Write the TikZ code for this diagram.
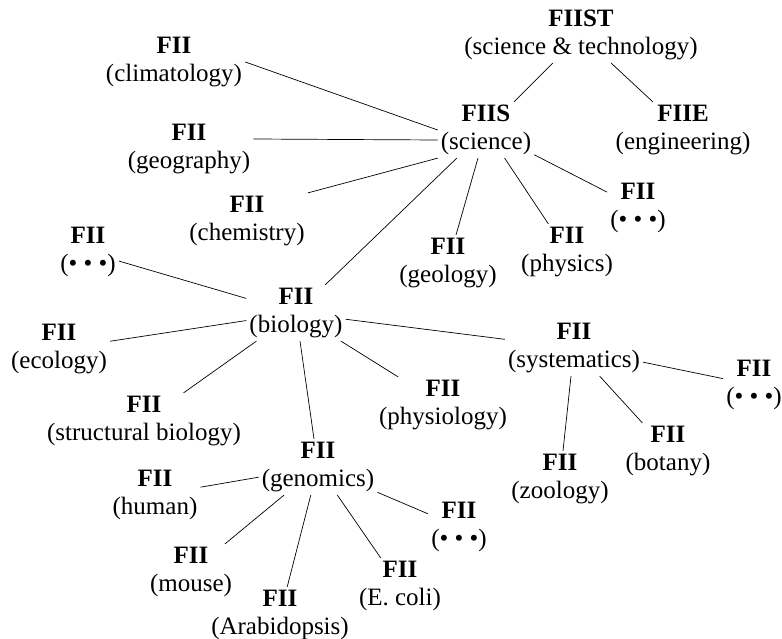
\documentclass[tikz,border=0pt]{standalone}
\usepackage{fontspec}
\setmainfont{Liberation Serif}
\usepackage{tikz}

\begin{document}
\begin{tikzpicture}[
    x=1pt, y=-1pt,
    every node/.style={font=\fontsize{25}{28}\selectfont},
    field/.style={rectangle, align=center, inner sep=3pt},
    link/.style={line width=0.7pt},
]
\useasboundingbox (0,0) rectangle (782,639);

% Top levels
\node[field] (st) at (581,35) {\textbf{FIIST}\\(science \& technology)};
\node[field] (sci) at (486,130) {\textbf{FIIS}\\(science)};
\node[field] (eng) at (683,130) {\textbf{FIIE}\\(engineering)};

% Science fields
\node[field] (clim) at (174,62) {\textbf{FII}\\(climatology)};
\node[field] (geog) at (189,149) {\textbf{FII}\\(geography)};
\node[field] (chem) at (247,221) {\textbf{FII}\\(chemistry)};
\node[field] (geol) at (448,263) {\textbf{FII}\\(geology)};
\node[field] (phys) at (567,252) {\textbf{FII}\\(physics)};
\node[field] (scimore) at (638,208) {\textbf{FII}\\(\textbullet{} \textbullet{} \textbullet)};
\node[field] (bio) at (296,313) {\textbf{FII}\\(biology)};

% Biology fields
\node[field] (biomore) at (88,252) {\textbf{FII}\\(\textbullet{} \textbullet{} \textbullet)};
\node[field] (eco) at (59,349) {\textbf{FII}\\(ecology)};
\node[field] (struct) at (144,421) {\textbf{FII}\\(structural biology)};
\node[field] (physio) at (443,405) {\textbf{FII}\\(physiology)};
\node[field] (syst) at (574,348) {\textbf{FII}\\(systematics)};
\node[field] (gen) at (318,467) {\textbf{FII}\\(genomics)};

% Systematics
\node[field] (sysmore) at (754,385) {\textbf{FII}\\(\textbullet{} \textbullet{} \textbullet)};
\node[field] (bot) at (668,451) {\textbf{FII}\\(botany)};
\node[field] (zoo) at (560,479) {\textbf{FII}\\(zoology)};

% Genomics
\node[field] (hum) at (155,495) {\textbf{FII}\\(human)};
\node[field] (mouse) at (191,572) {\textbf{FII}\\(mouse)};
\node[field] (arab) at (280,615) {\textbf{FII}\\(Arabidopsis)};
\node[field] (ecoli) at (400,586) {\textbf{FII}\\(E. coli)};
\node[field] (genmore) at (459,527) {\textbf{FII}\\(\textbullet{} \textbullet{} \textbullet)};

% Links
\draw[link] (st) -- (sci);
\draw[link] (st) -- (eng);
\draw[link] (clim.east) -- (sci.west);
\draw[link] ([yshift=10pt]geog.east) -- ([yshift=-10pt]sci.west);
\draw[link] (chem.north east) -- (sci.south west);
\foreach \n in {bio, geol, phys, scimore}
    \draw[link] (sci) -- (\n);
\foreach \n in {biomore, eco, struct, gen, physio, syst}
    \draw[link] (bio) -- (\n);
\foreach \n in {sysmore, zoo, bot}
    \draw[link] (syst) -- (\n);
\foreach \n in {hum, mouse, arab, ecoli, genmore}
    \draw[link] (gen) -- (\n);

\end{tikzpicture}
\end{document}
